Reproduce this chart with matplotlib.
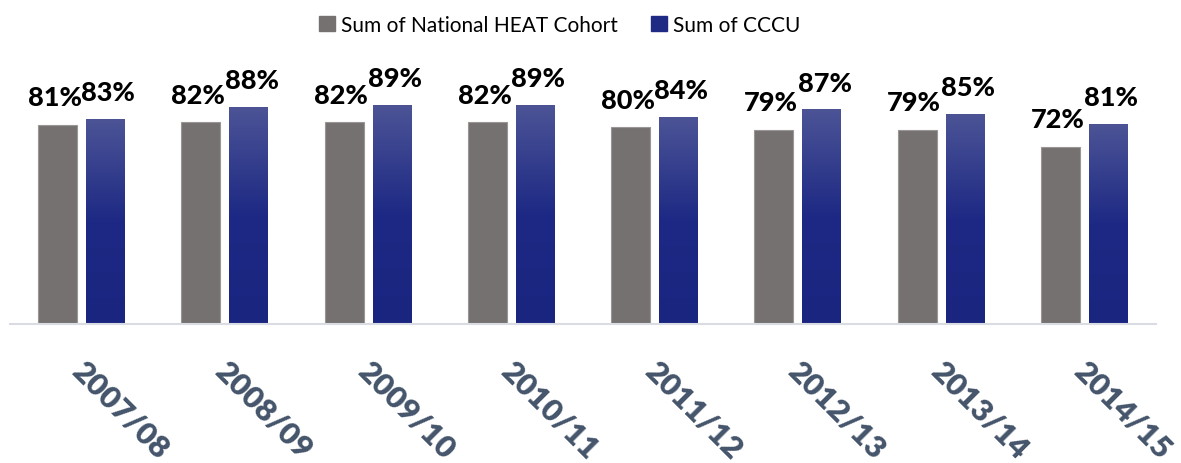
import numpy as np
import matplotlib.pyplot as plt
from matplotlib.colors import LinearSegmentedColormap
from matplotlib.patches import Patch
from matplotlib.transforms import ScaledTranslation

plt.rcParams['font.family'] = ['Lato', 'DejaVu Sans']

lata = ["2007/08", "2008/09", "2009/10", "2010/11", "2011/12", "2012/13", "2013/14", "2014/15"]
heat = [81, 82, 82, 82, 80, 79, 79, 72]
cccu = [83, 88, 89, 89, 84, 87, 85, 81]

szary = "#767171"
gradient = LinearSegmentedColormap.from_list("niebieski", ["#1A2580", "#1D2984", "#4C5496"])

fig = plt.figure(figsize=(11.81, 4.64), dpi=100)
ax = fig.add_axes([10 / 1181, 139 / 464, 1146 / 1181, 246 / 464])

x = np.arange(len(lata))
szer = 0.272
off = 0.1675

ax.bar(x - off, heat, szer, color=szary, edgecolor="#9a9696", linewidth=0.8)
slupki = ax.bar(x + off, cccu, szer, color="none")

grad = np.linspace(0, 1, 256).reshape(-1, 1)
for b in slupki:
    x0, y0 = b.get_x(), b.get_y()
    ax.imshow(grad, cmap=gradient, aspect="auto", origin="lower",
              extent=[x0, x0 + b.get_width(), y0, y0 + b.get_height()], zorder=2)

for i in range(len(lata)):
    ax.annotate(f"{heat[i]}%", (x[i] - off, heat[i]), xytext=(-2, 14), textcoords="offset points",
                ha="center", va="baseline", fontsize=19.5, fontweight="black", color="black")
    ax.annotate(f"{cccu[i]}%", (x[i] + off, cccu[i]), xytext=(2, 14), textcoords="offset points",
                ha="center", va="baseline", fontsize=19.5, fontweight="black", color="black")

ax.set_xlim(-0.5, len(lata) - 0.5)
ax.set_ylim(0, 100)
ax.set_yticks([])
for s in ["top", "right", "left"]:
    ax.spines[s].set_visible(False)
ax.spines["bottom"].set_color("#D9DCE3")
ax.spines["bottom"].set_linewidth(1.5)

ax.set_xticks(x)
ax.set_xticklabels(lata, rotation=-45, ha="left", va="top", rotation_mode="anchor",
                   fontsize=22.5, fontweight="heavy", color="#44546A")
ax.tick_params(axis="x", length=0, pad=23)
przes = ScaledTranslation(4 / 100, 0, fig.dpi_scale_trans)
for t in ax.get_xticklabels():
    t.set_transform(t.get_transform() + przes)

uchwyty = [Patch(color=szary, label="Sum of National HEAT Cohort"),
           Patch(color="#1F2A85", label="Sum of CCCU")]
fig.legend(handles=uchwyty, loc="center", bbox_to_anchor=(0.474, 1 - 26 / 464), ncol=2,
           frameon=False, fontsize=15, handlelength=0.75, handleheight=0.75, handletextpad=0.3,
           columnspacing=1.6)

fig.savefig("out.png", dpi=100)
